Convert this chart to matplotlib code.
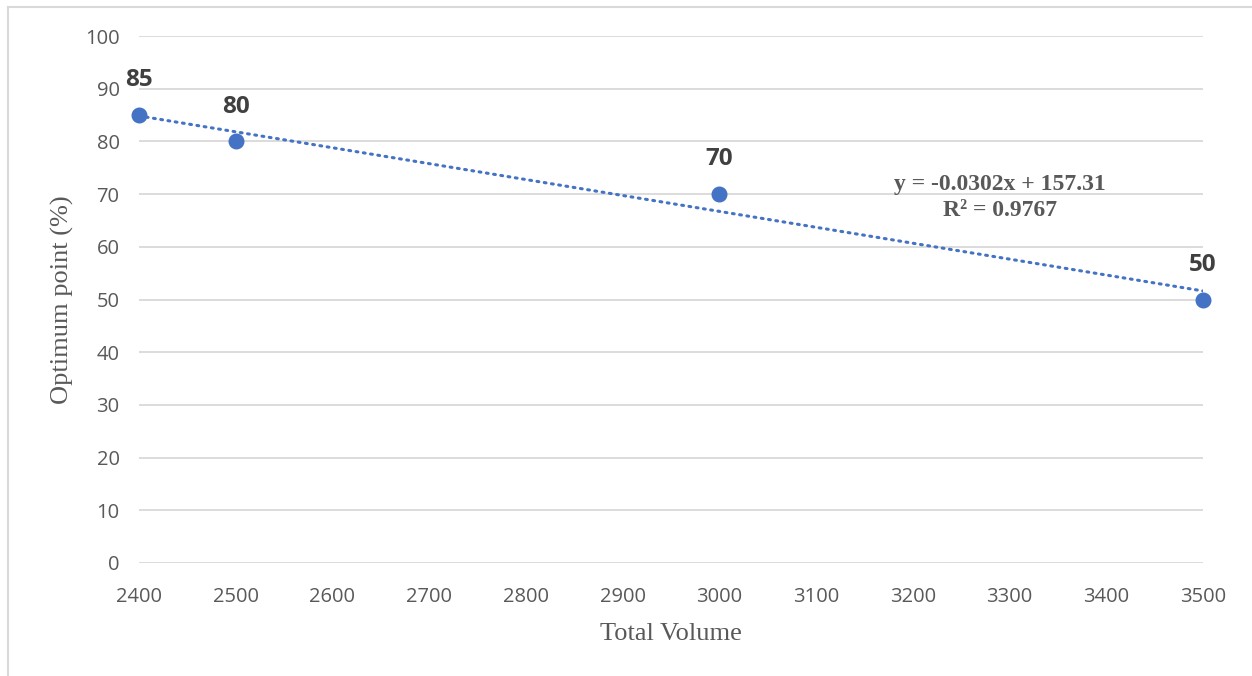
import numpy as np
import matplotlib.pyplot as plt
from matplotlib.lines import Line2D

# data
total_volume = [2400, 2500, 3000, 3500]
optimum_point = [85, 80, 70, 50]
x_ticks = [2400, 2500, 2600, 2700, 2800, 2900, 3000, 3100, 3200, 3300, 3400, 3500]
y_ticks = [0, 10, 20, 30, 40, 50, 60, 70, 80, 90, 100]

BLUE = "#4472C4"
GREY_TXT = "#595959"
GRID = "#D9D9D9"

fig = plt.figure(figsize=(12.52, 6.76), dpi=100)
ax = fig.add_axes([139 / 1252, 1 - 563 / 676, (1203 - 139) / 1252, (563 - 36) / 676])

# linear trendline, same as excel's
x = np.array(total_volume, dtype=float)
y = np.array(optimum_point, dtype=float)
slope, intercept = np.polyfit(x, y, 1)
fit = slope * x + intercept
r2 = 1 - np.sum((y - fit) ** 2) / np.sum((y - y.mean()) ** 2)
xs = np.array([x.min(), x.max()])
ax.plot(xs, slope * xs + intercept, color=BLUE, lw=2.2, ls=(0, (0.6, 1.8)),
        dash_capstyle="round", zorder=2)

ax.plot(x, y, "o", color=BLUE, ms=10.5, zorder=3, clip_on=False)
for xi, yi in zip(total_volume, optimum_point):
    ax.annotate(f"{yi}", (xi, yi), xytext=(0, 25), textcoords="offset points",
                ha="center", va="center", fontsize=17.5, fontweight="bold",
                color="#404040", family="Open Sans")

# equation label position (data coords)
ax.text(3290, 71.9, f"y = {slope:.4f}x + {intercept:.2f}",
        ha="center", va="center", fontsize=17, fontweight="bold", color=GREY_TXT,
        family="Liberation Serif")
ax.text(3290, 66.8, f"R² = {r2:.4f}",
        ha="center", va="center", fontsize=17, fontweight="bold", color=GREY_TXT,
        family="Liberation Serif")

ax.set_xlim(2400, 3500)
ax.set_ylim(0, 100)
ax.set_xticks(x_ticks)
ax.set_yticks(y_ticks)
ax.grid(axis="y", color=GRID, lw=1.3)
ax.set_axisbelow(True)
for s in ax.spines.values():
    s.set_visible(False)
ax.tick_params(length=0, labelsize=14.5, labelcolor=GREY_TXT)
ax.tick_params(axis="x", pad=17)
ax.tick_params(axis="y", pad=14)
for lab in ax.get_xticklabels() + ax.get_yticklabels():
    lab.set_family("Open Sans")

ax.set_xlabel("Total Volume", fontsize=19, color=GREY_TXT, family="Liberation Serif",
              labelpad=12)
ax.set_ylabel("Optimum point (%)", fontsize=19, color=GREY_TXT, family="Liberation Serif",
              labelpad=8)

# chart border (left and top visible in the reference)
fig.add_artist(Line2D([8 / 1252, 8 / 1252], [0, 1 - 7 / 676], color=GRID, lw=1.5))
fig.add_artist(Line2D([8 / 1252, 1], [1 - 7 / 676, 1 - 7 / 676], color=GRID, lw=1.5))

fig.savefig("out.png", dpi=100)
